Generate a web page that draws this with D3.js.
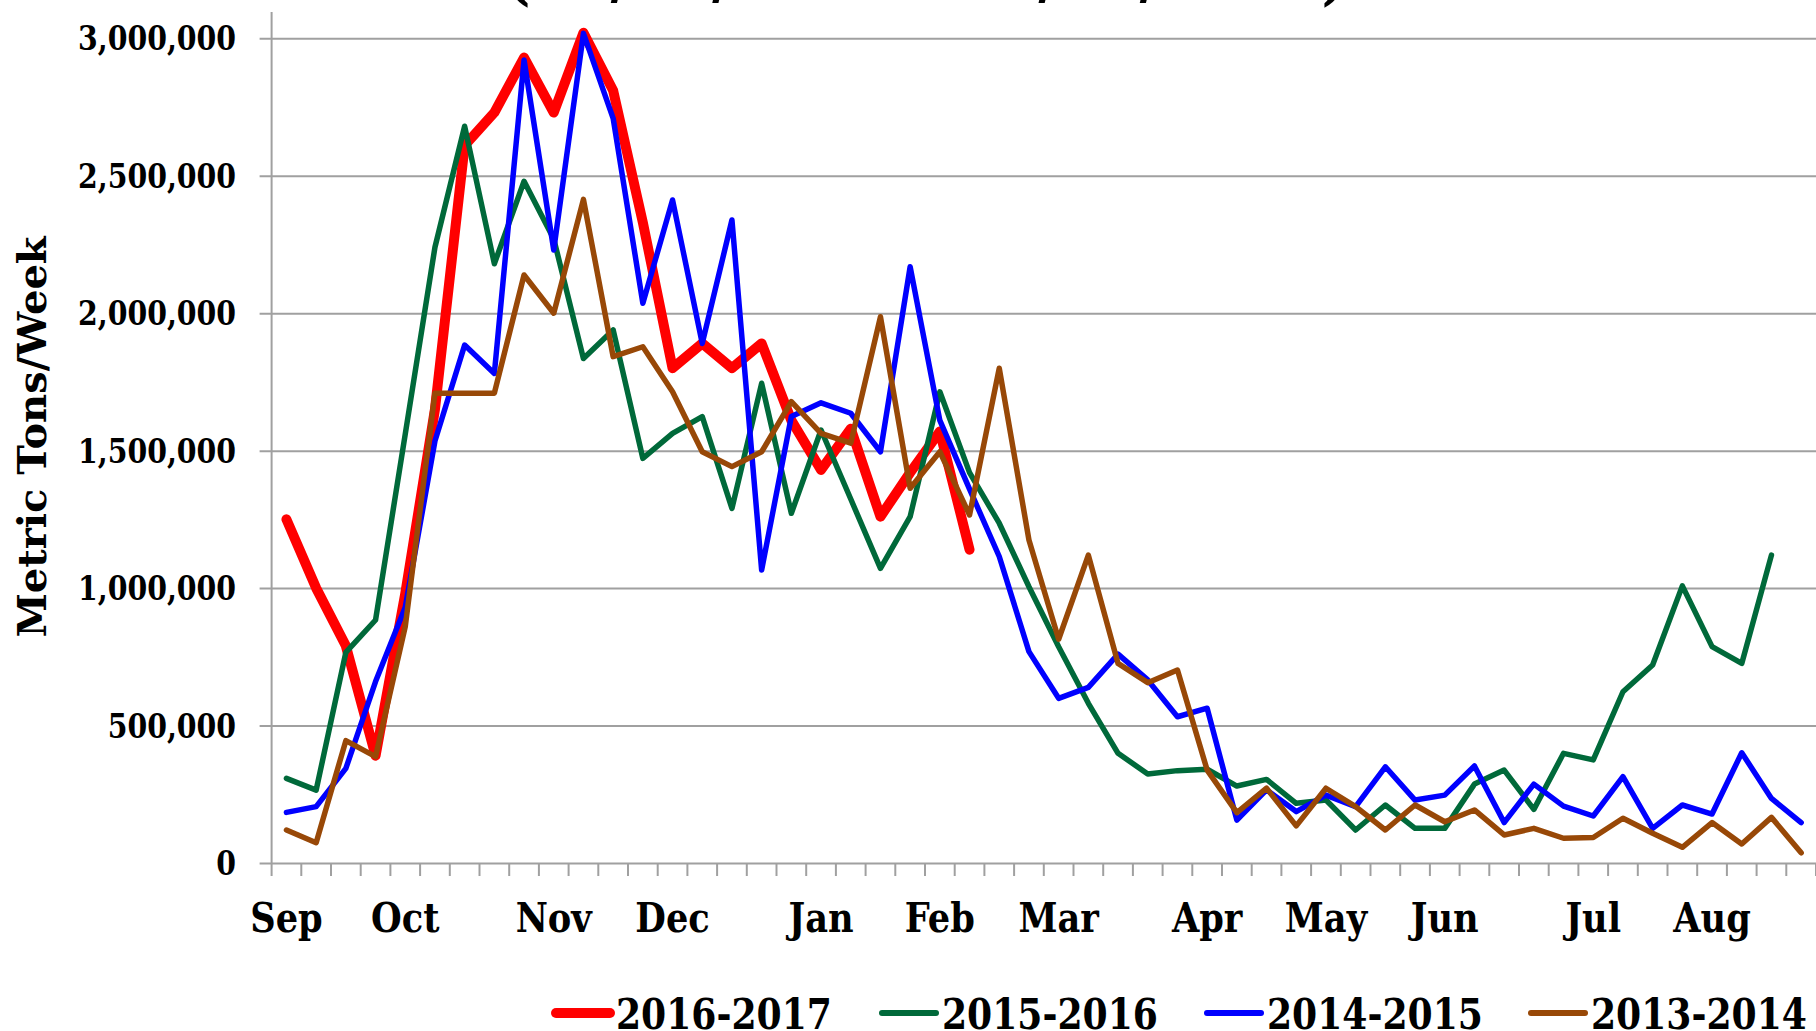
<!DOCTYPE html>
<html>
<head>
<meta charset="utf-8">
<script src="https://cdn.jsdelivr.net/npm/d3@7"></script>
<style>
  html, body { margin: 0; padding: 0; background: #fff; }
  svg { display: block; }
  svg text { font-family: 'DejaVu Serif', serif; font-weight: bold; fill: #000; }
</style>
</head>
<body>
<svg id="chart" width="1816" height="1031"></svg>
<script>
// 52 marketing-year weeks, Sep .. Aug; month label on the first week of each month
var monthLabels = {0: 'Sep', 4: 'Oct', 9: 'Nov', 13: 'Dec', 18: 'Jan', 22: 'Feb',
                   26: 'Mar', 31: 'Apr', 35: 'May', 39: 'Jun', 44: 'Jul', 48: 'Aug'};
var weeks = d3.range(52);
var yTicks = [0, 500000, 1000000, 1500000, 2000000, 2500000, 3000000];

var s2016 = [1250000, 1000000, 790000, 390000, 980000, 1650000, 2610000, 2730000, 2930000, 2730000,
             3020000, 2810000, 2330000, 1800000, 1890000, 1800000, 1890000, 1610000, 1430000, 1580000,
             1260000, 1420000, 1570000, 1140000];
var s2015 = [308000, 265000, 766000, 884000, 1560000, 2240000, 2680000, 2180000, 2480000, 2270000,
             1835000, 1939000, 1472000, 1563000, 1624000, 1290000, 1745000, 1272000, 1575000, 1324000,
             1072000, 1260000, 1714000, 1420000, 1236000, 1005000, 787000, 581000, 399000, 324000,
             336000, 341000, 280000, 304000, 217000, 229000, 120000, 211000, 126000, 126000,
             287000, 338000, 195000, 399000, 375000, 623000, 720000, 1008000, 787000, 726000,
             1120000];
var s2014 = [184000, 205000, 344000, 660000, 930000, 1535000, 1884000, 1781000, 2921000, 2230000,
             3018000, 2709000, 2036000, 2412000, 1890000, 2339000, 1066000, 1624000, 1674000, 1636000,
             1496000, 2169000, 1610000, 1360000, 1115000, 769000, 599000, 639000, 760000, 666000,
             532000, 563000, 156000, 266000, 187000, 247000, 205000, 350000, 229000, 247000,
             353000, 147000, 287000, 207000, 171000, 314000, 126000, 211000, 178000, 401000,
             235000, 147000];
var s2013 = [120000, 74000, 445000, 387000, 860000, 1709000, 1709000, 1709000, 2139000, 2000000,
             2414000, 1842000, 1878000, 1714000, 1496000, 1442000, 1496000, 1678000, 1563000, 1527000,
             1987000, 1363000, 1496000, 1266000, 1800000, 1175000, 814000, 1120000, 726000, 656000,
             702000, 338000, 183000, 272000, 135000, 272000, 205000, 120000, 211000, 150000,
             193000, 102000, 126000, 90000, 93000, 163000, 108000, 57000, 147000, 69000,
             166000, 37000];

var seriesNames = ['2016-2017', '2015-2016', '2014-2015', '2013-2014'];
var seriesData = [s2016, s2015, s2014, s2013];
var seriesColors = ['#ff0000', '#00693a', '#0000ff', '#984807'];
var seriesWidths = [10, 5.5, 5.5, 5.5];

var svg = d3.select('#chart');
var width = 1816;
var margin_left = 271.6;
var plot_top = 12;
var y_bottom = 863;
var squeeze = 0.86; // narrow the glyphs a bit, the original font is narrower

var x = d3.scaleBand().domain(weeks).range([margin_left, width]).padding(0);
var y = d3.scaleLinear().domain([0, 3000000]).range([y_bottom, 38.3]);
var fmt = d3.format(',');

// title (only the bottom of its second line is inside the picture)
svg.append('text')
    .attr('transform', 'translate(926,-4) scale(0.78,1)')
    .attr('text-anchor', 'middle')
    .style('font-size', '74px')
    .text('(09/01/2016 - 02/16/2017)');

// horizontal grid + short ticks left of the axis
var yAxis = d3.axisLeft(y).tickValues(yTicks).tickSize(-(width - margin_left)).tickFormat('');
svg.append('g')
    .attr('transform', 'translate(' + margin_left + ',0)')
    .call(yAxis)
    .call(function(g) {
        g.select('.domain').remove();
        g.selectAll('.tick line').attr('stroke', '#a0a0a0').attr('stroke-width', 2)
            .attr('x1', -12);
        g.selectAll('.tick text').remove();
    });

// y tick labels
svg.append('g').selectAll('text')
    .data(yTicks)
    .join('text')
    .attr('text-anchor', 'end')
    .attr('transform', function(d) { return 'translate(236,' + (y(d) + 12) + ') scale(' + squeeze + ',1)'; })
    .style('font-size', '33px')
    .text(fmt);

// y axis line
svg.append('line')
    .attr('x1', margin_left).attr('x2', margin_left)
    .attr('y1', plot_top).attr('y2', y_bottom)
    .attr('stroke', '#a0a0a0').attr('stroke-width', 2);

// category tick marks under the x axis
svg.append('g').selectAll('line')
    .data(d3.range(53))
    .join('line')
    .attr('x1', function(i) { return margin_left + i * x.bandwidth(); })
    .attr('x2', function(i) { return margin_left + i * x.bandwidth(); })
    .attr('y1', y_bottom).attr('y2', y_bottom + 13)
    .attr('stroke', '#a0a0a0').attr('stroke-width', 2);

// month labels
svg.append('g').selectAll('text')
    .data(weeks.filter(function(w) { return monthLabels[w]; }))
    .join('text')
    .attr('transform', function(w) { return 'translate(' + (x(w) + x.bandwidth() / 2) + ',932) scale(' + squeeze + ',1)'; })
    .attr('text-anchor', 'middle')
    .style('font-size', '41px')
    .text(function(w) { return monthLabels[w]; });

// y axis title
svg.append('text')
    .attr('transform', 'translate(46,437) rotate(-90)')
    .attr('text-anchor', 'middle')
    .style('font-size', '40px')
    .text('Metric Tons/Week');

// lines: Excel order, so 2013-2014 ends up on top
var line_func = d3.line()
    .x(function(d, i) { return x(i) + x.bandwidth() / 2; })
    .y(function(d) { return y(d); });

seriesData.forEach(function(data, k) {
    svg.append('path')
        .attr('d', line_func(data))
        .attr('fill', 'none')
        .attr('stroke', seriesColors[k])
        .attr('stroke-width', seriesWidths[k])
        .attr('stroke-linejoin', 'round')
        .attr('stroke-linecap', 'round');
});

// legend
var legendX = [556, 882, 1207, 1531];
var legend = svg.append('g');
seriesNames.forEach(function(name, k) {
    legend.append('line')
        .attr('x1', legendX[k]).attr('x2', legendX[k] + 54)
        .attr('y1', 1013).attr('y2', 1013)
        .attr('stroke', seriesColors[k])
        .attr('stroke-width', k === 0 ? 10 : 6)
        .attr('stroke-linecap', 'round');
    legend.append('text')
        .attr('transform', 'translate(' + (legendX[k] + 60) + ',1029) scale(' + squeeze + ',1)')
        .style('font-size', '42px')
        .text(name);
});
</script>
</body>
</html>
